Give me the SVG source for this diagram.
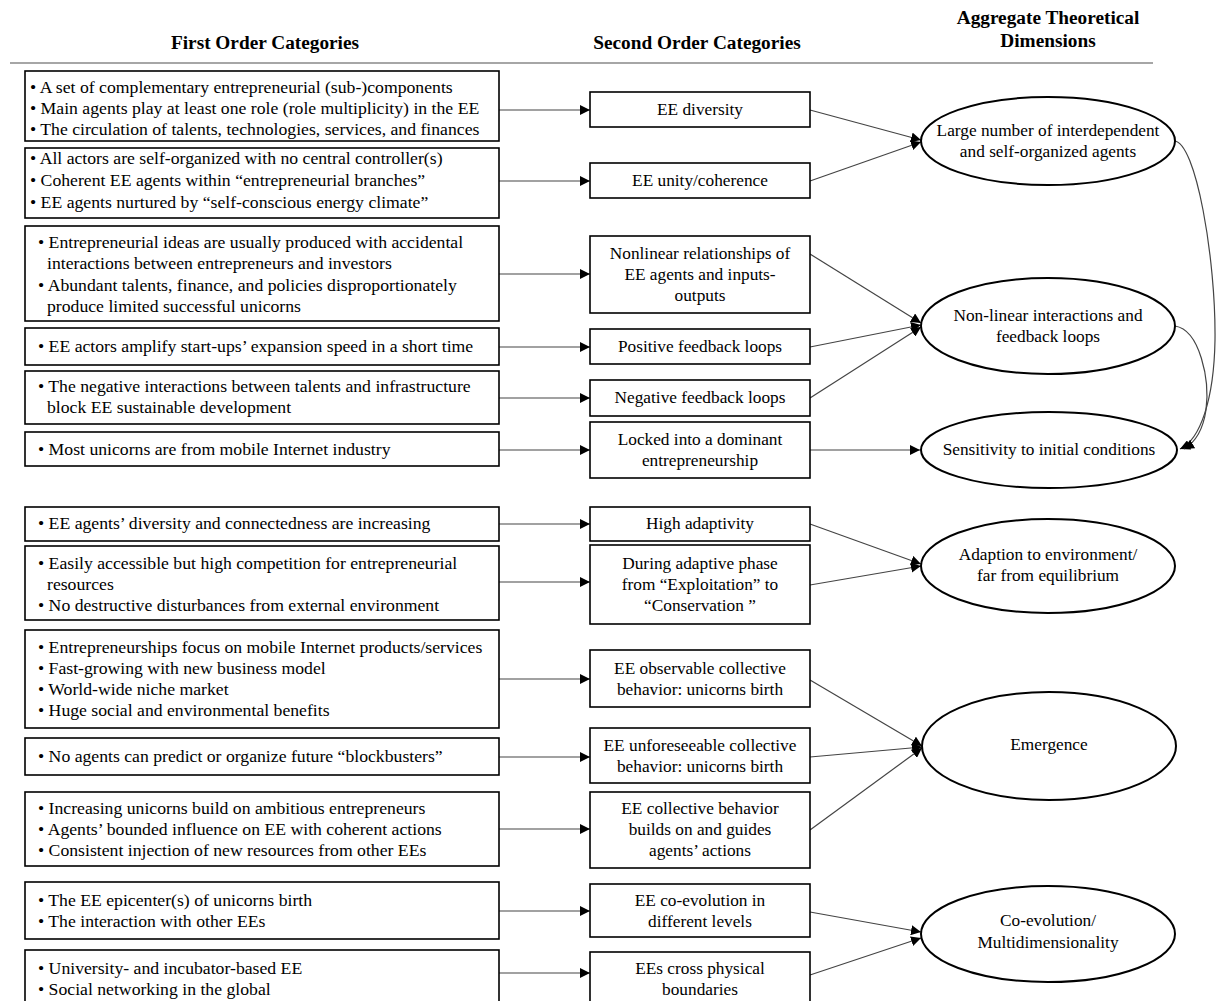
<svg xmlns="http://www.w3.org/2000/svg" width="1216" height="1001" viewBox="0 0 1216 1001">
<defs>
<style>
text{font-family:"Liberation Serif","Times New Roman",serif;font-size:17.3px;fill:#000}
.f{font-size:17.7px}
.h{font-weight:bold;text-anchor:middle;font-size:19.3px}
.c{text-anchor:middle}
.box{fill:#fff;stroke:#000;stroke-width:1.6}
.ell{fill:#fff;stroke:#000;stroke-width:2}
.con{fill:none;stroke:#444;stroke-width:1.2}
</style>
<marker id="ah" viewBox="0 0 10 10" refX="10" refY="5" markerWidth="10" markerHeight="10" markerUnits="userSpaceOnUse" orient="auto">
<path d="M0,0 L10,5 L0,10 z" fill="#000"/>
</marker>
</defs>
<rect width="1216" height="1001" fill="#fff"/>

<g id="headers">
<text class="h" x="265" y="49">First Order Categories</text>
<text class="h" x="697" y="49">Second Order Categories</text>
<text class="h" x="1048" y="24">Aggregate Theoretical</text>
<text class="h" x="1048" y="47">Dimensions</text>
<line x1="10" y1="63" x2="1153" y2="63" stroke="#888" stroke-width="1.5"/>
</g>

<g id="connectors">
<line class="con" x1="499" y1="110" x2="590" y2="110" marker-end="url(#ah)"/>
<line class="con" x1="499" y1="181" x2="590" y2="181" marker-end="url(#ah)"/>
<line class="con" x1="499" y1="274" x2="590" y2="274" marker-end="url(#ah)"/>
<line class="con" x1="499" y1="347" x2="590" y2="347" marker-end="url(#ah)"/>
<line class="con" x1="499" y1="398" x2="590" y2="398" marker-end="url(#ah)"/>
<line class="con" x1="499" y1="450" x2="590" y2="450" marker-end="url(#ah)"/>
<line class="con" x1="499" y1="524" x2="590" y2="524" marker-end="url(#ah)"/>
<line class="con" x1="499" y1="582" x2="590" y2="582" marker-end="url(#ah)"/>
<line class="con" x1="499" y1="679" x2="590" y2="679" marker-end="url(#ah)"/>
<line class="con" x1="499" y1="757" x2="590" y2="757" marker-end="url(#ah)"/>
<line class="con" x1="499" y1="829" x2="590" y2="829" marker-end="url(#ah)"/>
<line class="con" x1="499" y1="911" x2="590" y2="911" marker-end="url(#ah)"/>
<line class="con" x1="499" y1="973" x2="590" y2="973" marker-end="url(#ah)"/>

<line class="con" x1="810" y1="110" x2="921" y2="140" marker-end="url(#ah)"/>
<line class="con" x1="810" y1="181" x2="921" y2="142" marker-end="url(#ah)"/>
<line class="con" x1="810" y1="254" x2="921" y2="323" marker-end="url(#ah)"/>
<line class="con" x1="810" y1="347" x2="921" y2="325" marker-end="url(#ah)"/>
<line class="con" x1="810" y1="398" x2="921" y2="327" marker-end="url(#ah)"/>
<line class="con" x1="810" y1="450" x2="920" y2="450" marker-end="url(#ah)"/>
<line class="con" x1="810" y1="524" x2="921" y2="564" marker-end="url(#ah)"/>
<line class="con" x1="810" y1="585" x2="921" y2="566" marker-end="url(#ah)"/>
<line class="con" x1="810" y1="680" x2="922" y2="746" marker-end="url(#ah)"/>
<line class="con" x1="810" y1="757" x2="922" y2="747" marker-end="url(#ah)"/>
<line class="con" x1="810" y1="830" x2="922" y2="748" marker-end="url(#ah)"/>
<line class="con" x1="810" y1="912" x2="921" y2="932" marker-end="url(#ah)"/>
<line class="con" x1="810" y1="975" x2="921" y2="938" marker-end="url(#ah)"/>

<path class="con" d="M1174,141 C1196,141 1216,260 1215,340 C1214,400 1200,440 1180,449" marker-end="url(#ah)"/>
<path class="con" d="M1175,326 C1200,330 1210,380 1206,410 C1203,430 1196,442 1184,449" marker-end="url(#ah)"/>
</g>

<g id="fo1"><rect class="box" x="25" y="71" width="474" height="70"/>
<text class="f" x="30" y="93">• A set of complementary entrepreneurial (sub-)components</text>
<text class="f" x="30" y="114">• Main agents play at least one role (role multiplicity) in the EE</text>
<text class="f" x="30" y="135">• The circulation of talents, technologies, services, and finances</text></g>
<g id="fo2"><rect class="box" x="25" y="148" width="474" height="70"/>
<text class="f" x="30" y="164">• All actors are self-organized with no central controller(s)</text>
<text class="f" x="30" y="186">• Coherent EE agents within “entrepreneurial branches”</text>
<text class="f" x="30" y="208">• EE agents nurtured by “self-conscious energy climate”</text></g>
<g id="fo3"><rect class="box" x="25" y="226" width="474" height="95"/>
<text class="f" x="38" y="248">• Entrepreneurial ideas are usually produced with accidental</text>
<text class="f" x="47" y="269">interactions between entrepreneurs and investors</text>
<text class="f" x="38" y="291">• Abundant talents, finance, and policies disproportionately</text>
<text class="f" x="47" y="312">produce limited successful unicorns</text></g>
<g id="fo4"><rect class="box" x="25" y="328" width="474" height="37"/>
<text class="f" x="38" y="352">• EE actors amplify start-ups’ expansion speed in a short time</text></g>
<g id="fo5"><rect class="box" x="25" y="371" width="474" height="53"/>
<text class="f" x="38" y="392">• The negative interactions between talents and infrastructure</text>
<text class="f" x="47" y="413">block EE sustainable development</text></g>
<g id="fo6"><rect class="box" x="25" y="432" width="474" height="34"/>
<text class="f" x="38" y="455">• Most unicorns are from mobile Internet industry</text></g>
<g id="fo7"><rect class="box" x="25" y="507" width="474" height="34"/>
<text class="f" x="38" y="529">• EE agents’ diversity and connectedness are increasing</text></g>
<g id="fo8"><rect class="box" x="25" y="546" width="474" height="74"/>
<text class="f" x="38" y="569">• Easily accessible but high competition for entrepreneurial</text>
<text class="f" x="47" y="590">resources</text>
<text class="f" x="38" y="611">• No destructive disturbances from external environment</text></g>
<g id="fo9"><rect class="box" x="25" y="630" width="474" height="98"/>
<text class="f" x="38" y="653">• Entrepreneurships focus on mobile Internet products/services</text>
<text class="f" x="38" y="674">• Fast-growing with new business model</text>
<text class="f" x="38" y="695">• World-wide niche market</text>
<text class="f" x="38" y="716">• Huge social and environmental benefits</text></g>
<g id="fo10"><rect class="box" x="25" y="738" width="474" height="37"/>
<text class="f" x="38" y="762">• No agents can predict or organize future “blockbusters”</text></g>
<g id="fo11"><rect class="box" x="25" y="792" width="474" height="74"/>
<text class="f" x="38" y="814">• Increasing unicorns build on ambitious entrepreneurs</text>
<text class="f" x="38" y="835">• Agents’ bounded influence on EE with coherent actions</text>
<text class="f" x="38" y="856">• Consistent injection of new resources from other EEs</text></g>
<g id="fo12"><rect class="box" x="25" y="882" width="474" height="57"/>
<text class="f" x="38" y="906">• The EE epicenter(s) of unicorns birth</text>
<text class="f" x="38" y="927">• The interaction with other EEs</text></g>
<g id="fo13"><rect class="box" x="25" y="950" width="474" height="60"/>
<text class="f" x="38" y="974">• University- and incubator-based EE</text>
<text class="f" x="38" y="995">• Social networking in the global</text></g>

<g id="so1"><rect class="box" x="590" y="92" width="220" height="35"/>
<text class="c" x="700" y="115">EE diversity</text></g>
<g id="so2"><rect class="box" x="590" y="163" width="220" height="35"/>
<text class="c" x="700" y="186">EE unity/coherence</text></g>
<g id="so3"><rect class="box" x="590" y="236" width="220" height="77"/>
<text class="c" x="700" y="259">Nonlinear relationships of</text>
<text class="c" x="700" y="280">EE agents and inputs-</text>
<text class="c" x="700" y="301">outputs</text></g>
<g id="so4"><rect class="box" x="590" y="329" width="220" height="35"/>
<text class="c" x="700" y="352">Positive feedback loops</text></g>
<g id="so5"><rect class="box" x="590" y="380" width="220" height="36"/>
<text class="c" x="700" y="403">Negative feedback loops</text></g>
<g id="so6"><rect class="box" x="590" y="422" width="220" height="56"/>
<text class="c" x="700" y="445">Locked into a dominant</text>
<text class="c" x="700" y="466">entrepreneurship</text></g>
<g id="so7"><rect class="box" x="590" y="507" width="220" height="34"/>
<text class="c" x="700" y="529">High adaptivity</text></g>
<g id="so8"><rect class="box" x="590" y="545" width="220" height="79"/>
<text class="c" x="700" y="569">During adaptive phase</text>
<text class="c" x="700" y="590">from “Exploitation” to</text>
<text class="c" x="700" y="611">“Conservation ”</text></g>
<g id="so9"><rect class="box" x="590" y="650" width="220" height="57"/>
<text class="c" x="700" y="674">EE observable collective</text>
<text class="c" x="700" y="695">behavior: unicorns birth</text></g>
<g id="so10"><rect class="box" x="590" y="728" width="220" height="55"/>
<text class="c" x="700" y="751">EE unforeseeable collective</text>
<text class="c" x="700" y="772">behavior: unicorns birth</text></g>
<g id="so11"><rect class="box" x="590" y="792" width="220" height="76"/>
<text class="c" x="700" y="814">EE collective behavior</text>
<text class="c" x="700" y="835">builds on and guides</text>
<text class="c" x="700" y="856">agents’ actions</text></g>
<g id="so12"><rect class="box" x="590" y="884" width="220" height="53"/>
<text class="c" x="700" y="906">EE co-evolution in</text>
<text class="c" x="700" y="927">different levels</text></g>
<g id="so13"><rect class="box" x="590" y="952" width="220" height="58"/>
<text class="c" x="700" y="974">EEs cross physical</text>
<text class="c" x="700" y="995">boundaries</text></g>

<g id="ad1"><ellipse class="ell" cx="1048" cy="141" rx="127" ry="44"/>
<text class="c" x="1048" y="136">Large number of interdependent</text>
<text class="c" x="1048" y="157">and self-organized agents</text></g>
<g id="ad2"><ellipse class="ell" cx="1048" cy="326" rx="127" ry="48"/>
<text class="c" x="1048" y="321">Non-linear interactions and</text>
<text class="c" x="1048" y="342">feedback loops</text></g>
<g id="ad3"><ellipse class="ell" cx="1049" cy="450" rx="128" ry="38"/>
<text class="c" x="1049" y="455">Sensitivity to initial conditions</text></g>
<g id="ad4"><ellipse class="ell" cx="1048" cy="566" rx="127" ry="47"/>
<text class="c" x="1048" y="560">Adaption to environment/</text>
<text class="c" x="1048" y="581">far from equilibrium</text></g>
<g id="ad5"><ellipse class="ell" cx="1049" cy="746" rx="127" ry="54"/>
<text class="c" x="1049" y="750">Emergence</text></g>
<g id="ad6"><ellipse class="ell" cx="1048" cy="934" rx="127" ry="48"/>
<text class="c" x="1048" y="926">Co-evolution/</text>
<text class="c" x="1048" y="948">Multidimensionality</text></g>
</svg>
